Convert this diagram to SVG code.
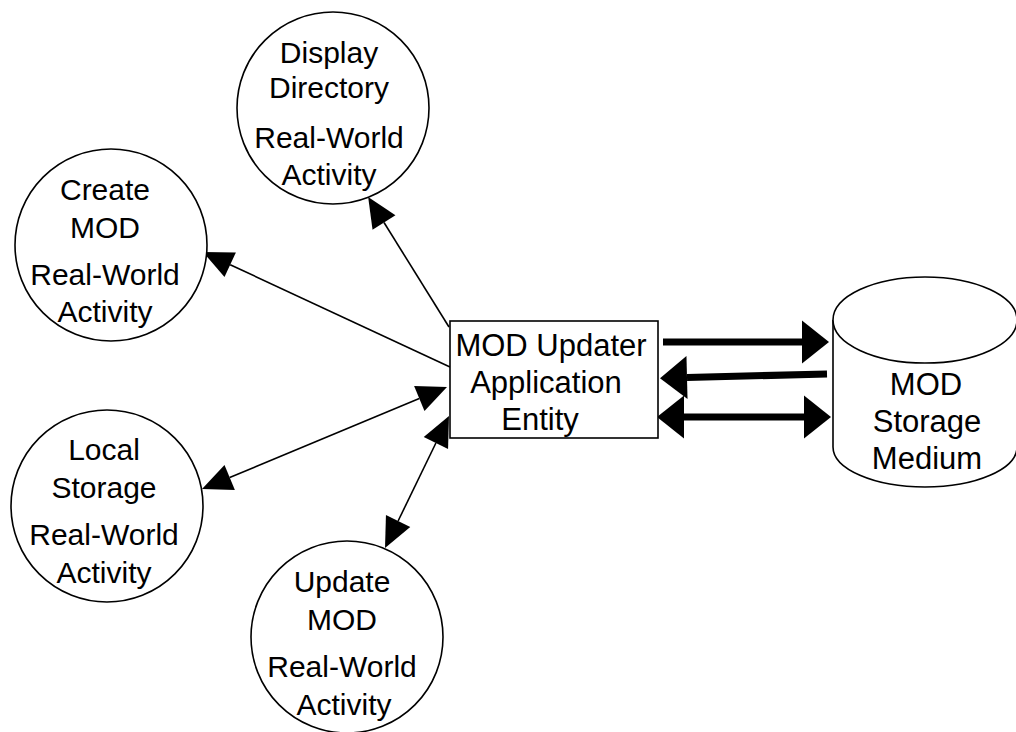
<svg xmlns="http://www.w3.org/2000/svg" width="1016" height="732" viewBox="0 0 1016 732">
<style>
.shape{fill:#fff;stroke:#000;stroke-width:1.6}
.t{font-family:"Liberation Sans",Arial,sans-serif;font-size:30px;fill:#000;text-anchor:middle}
.tb{font-size:31px}
.thin{stroke:#000;stroke-width:1.6;fill:none}
.thick{stroke:#000;stroke-width:7;fill:none}
</style>
<defs>
<marker id="ah" markerUnits="userSpaceOnUse" markerWidth="31" markerHeight="28" refX="0" refY="13.5" orient="auto-start-reverse" overflow="visible">
<path d="M0,0 L30,13.5 L0,27 Z" fill="#000"/>
</marker>
<marker id="ahb" markerUnits="userSpaceOnUse" markerWidth="28" markerHeight="44" refX="0" refY="21.5" orient="auto-start-reverse" overflow="visible">
<path d="M0,0 L27,21.5 L0,43 Z" fill="#000"/>
</marker>
</defs>
<rect width="1016" height="732" fill="#fff"/>
<g id="connectors">
<line class="thin" x1="449" y1="327" x2="384" y2="222.5" marker-end="url(#ah)"/>
<line class="thin" x1="450" y1="367" x2="230.2" y2="264.7" marker-end="url(#ah)"/>
<line class="thin" x1="229.7" y1="477.5" x2="419.3" y2="398.5" marker-start="url(#ah)" marker-end="url(#ah)"/>
<line class="thin" x1="398.1" y1="521" x2="435.9" y2="443" marker-start="url(#ah)" marker-end="url(#ah)"/>
<line class="thick" x1="663" y1="342" x2="802" y2="342" marker-end="url(#ahb)"/>
<line class="thick" x1="827" y1="374" x2="687" y2="377.5" marker-end="url(#ahb)"/>
<line class="thick" x1="684" y1="417" x2="804" y2="417" marker-start="url(#ahb)" marker-end="url(#ahb)"/>
</g>
<g id="display-directory">
<circle class="shape" cx="333" cy="108" r="96"/>
<text class="t" x="329" y="63">Display</text>
<text class="t" x="329" y="98">Directory</text>
<text class="t" x="329" y="148">Real-World</text>
<text class="t" x="329" y="185">Activity</text>
</g>
<g id="create-mod">
<circle class="shape" cx="111" cy="245" r="96"/>
<text class="t" x="105" y="200">Create</text>
<text class="t" x="105" y="238">MOD</text>
<text class="t" x="105" y="285">Real-World</text>
<text class="t" x="105" y="322">Activity</text>
</g>
<g id="local-storage">
<circle class="shape" cx="107" cy="506" r="96"/>
<text class="t" x="104" y="460">Local</text>
<text class="t" x="104" y="498">Storage</text>
<text class="t" x="104" y="545">Real-World</text>
<text class="t" x="104" y="583">Activity</text>
</g>
<g id="update-mod">
<circle class="shape" cx="347" cy="637" r="96"/>
<text class="t" x="342" y="592">Update</text>
<text class="t" x="342" y="630">MOD</text>
<text class="t" x="342" y="677">Real-World</text>
<text class="t" x="344" y="715">Activity</text>
</g>
<g id="mod-updater">
<rect class="shape" x="450" y="321" width="208" height="117"/>
<text class="t tb" x="551" y="356">MOD Updater</text>
<text class="t tb" x="546" y="393">Application</text>
<text class="t tb" x="540" y="430">Entity</text>
</g>
<g id="mod-storage">
<path class="shape" d="M833,320 L833,447 A92,40 0 0 0 1017,447 L1017,320"/>
<ellipse class="shape" cx="925" cy="320" rx="92" ry="43"/>
<text class="t tb" x="926" y="395">MOD</text>
<text class="t tb" x="927" y="432">Storage</text>
<text class="t tb" x="927" y="469">Medium</text>
</g>
</svg>
